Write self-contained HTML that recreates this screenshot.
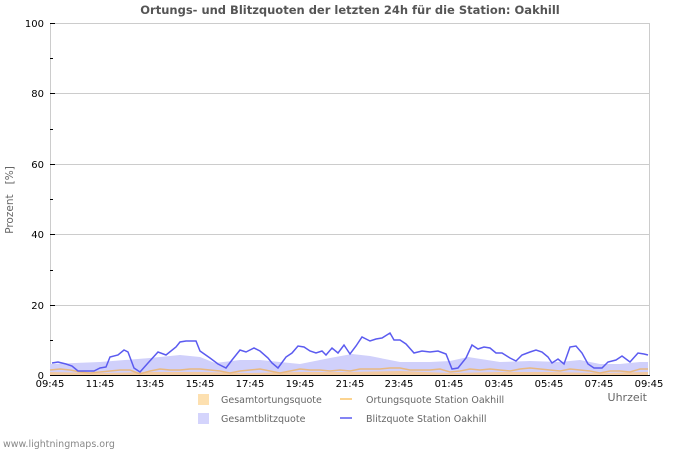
<!DOCTYPE html>
<html><head><meta charset="utf-8"><style>
html,body{margin:0;padding:0;background:#fff}
svg{display:block;font-family:"DejaVu Sans","Liberation Sans",sans-serif}
</style></head><body>
<svg width="700" height="450" viewBox="0 0 700 450">
<rect width="700" height="450" fill="#fff"/>
<text x="350" y="14" text-anchor="middle" font-size="11.5" font-weight="bold" fill="#555">Ortungs- und Blitzquoten der letzten 24h für die Station: Oakhill</text>
<g stroke="#ccc" stroke-width="1">
<line x1="50" y1="23.5" x2="650" y2="23.5"/>
<line x1="50" y1="93.5" x2="650" y2="93.5"/>
<line x1="50" y1="164.5" x2="650" y2="164.5"/>
<line x1="50" y1="234.5" x2="650" y2="234.5"/>
<line x1="50" y1="305.5" x2="650" y2="305.5"/>
<line x1="50.5" y1="23" x2="50.5" y2="376"/>
<line x1="649.5" y1="23" x2="649.5" y2="376"/>
</g>
<polygon fill="#d0d0fb" points="50,375 50,364 100,362 150,358 180,355 200,357 215,363 240,360 260,360 280,362 300,364 330,358 352,354 370,356 400,362 430,362 450,361 468,357 500,362 530,361 560,362 580,360 600,364 620,364 640,362 648,362 648,375"/>
<polygon fill="#f2c9a0" points="50,375 50,372 100,373 150,372 200,372 250,373 300,372 350,372 400,371 450,373 500,372 550,372 600,373 648,372 648,375"/>
<polyline fill="none" stroke="#e8b880" stroke-width="1.5" points="50,370 60,369 70,370 80,372 90,373 100,372 110,371 120,370 130,370 140,374 150,371 160,369 170,370 180,370 190,369 200,369 210,370 220,371 230,373 240,371 250,370 260,369 270,371 280,373 290,371 300,369 310,370 320,370 330,371 340,370 350,371 360,369 370,369 380,369 390,368 400,368 410,370 420,370 430,370 440,369 450,372 460,371 470,369 480,370 490,369 500,370 510,371 520,369 530,368 540,369 550,370 560,371 570,369 580,370 590,371 600,373 610,371 620,371 630,372 640,369 648,369"/>
<polyline fill="none" stroke="#5b5bf0" stroke-width="1.5" points="52,363 58,362 66,364 72,366 78,371 88,371 94,371 100,368 106,367 110,357 118,355 124,350 128,352 134,368 140,372 148,363 158,352 166,355 176,347 180,342 186,341 196,341 200,351 210,358 218,364 226,368 232,360 240,350 246,352 254,348 260,351 268,358 272,363 278,368 286,357 292,353 298,346 304,347 310,351 316,353 322,351 326,355 332,348 338,353 344,345 350,354 356,346 362,337 370,341 376,339 382,338 390,333 394,340 400,340 406,344 414,353 422,351 430,352 438,351 446,354 452,369 458,368 466,358 472,345 478,349 484,347 490,348 496,353 502,353 510,358 516,361 522,355 530,352 536,350 542,352 548,357 552,363 558,359 564,364 570,347 576,346 582,353 588,364 594,368 602,368 608,362 616,360 622,356 630,362 638,353 644,354 648,355"/>
<g stroke="#000" stroke-width="1">
<line x1="50" y1="375.5" x2="650" y2="375.5"/>
<line x1="50" y1="23.5" x2="55" y2="23.5"/>
<line x1="50" y1="58.5" x2="53" y2="58.5"/>
<line x1="50" y1="93.5" x2="55" y2="93.5"/>
<line x1="50" y1="129.5" x2="53" y2="129.5"/>
<line x1="50" y1="164.5" x2="55" y2="164.5"/>
<line x1="50" y1="199.5" x2="53" y2="199.5"/>
<line x1="50" y1="234.5" x2="55" y2="234.5"/>
<line x1="50" y1="270.5" x2="53" y2="270.5"/>
<line x1="50" y1="305.5" x2="55" y2="305.5"/>
<line x1="50" y1="340.5" x2="53" y2="340.5"/>
</g>
<g stroke="#000" stroke-width="1" id="xt"></g>
<script>
var g=document.getElementById('xt'),s='';
for(var i=0;i<=24;i++){var x=Math.round(50+i*599/24)+0.5;s+='<line x1="'+x+'" x2="'+x+'" y1="375" y2="'+(i%2?372:371)+'"/>';}
g.innerHTML=s;
</script>
<g font-size="10" fill="#000" text-anchor="end">
<text x="44" y="27">100</text><text x="44" y="97">80</text><text x="44" y="168">60</text><text x="44" y="238">40</text><text x="44" y="309">20</text><text x="44" y="379">0</text>
</g>
<g font-size="10" fill="#000" text-anchor="middle">
<text x="50" y="387">09:45</text><text x="100" y="387">11:45</text><text x="150" y="387">13:45</text><text x="200" y="387">15:45</text><text x="250" y="387">17:45</text><text x="300" y="387">19:45</text><text x="350" y="387">21:45</text><text x="399" y="387">23:45</text><text x="449" y="387">01:45</text><text x="499" y="387">03:45</text><text x="549" y="387">05:45</text><text x="599" y="387">07:45</text><text x="649" y="387">09:45</text>
</g>
<text x="13" y="200" font-size="10.5" fill="#666" text-anchor="middle" transform="rotate(-90 13 200)" style="white-space:pre">Prozent   [%]</text>
<text x="647" y="401" font-size="11" fill="#666" text-anchor="end">Uhrzeit</text>
<rect x="198" y="394" width="11" height="11" fill="#fde0b0"/>
<text x="221" y="403" font-size="9.5" fill="#666">Gesamtortungsquote</text>
<rect x="198" y="413" width="11" height="11" fill="#d4d4fc"/>
<text x="221" y="422" font-size="9.5" fill="#666">Gesamtblitzquote</text>
<line x1="340" y1="399" x2="352" y2="399" stroke="#fbc56a" stroke-width="1.5"/>
<text x="366" y="403" font-size="9.5" fill="#666">Ortungsquote Station Oakhill</text>
<line x1="340" y1="418" x2="352" y2="418" stroke="#5b5bf0" stroke-width="1.5"/>
<text x="366" y="422" font-size="9.5" fill="#666">Blitzquote Station Oakhill</text>
<text x="3" y="447" font-size="9.5" fill="#888">www.lightningmaps.org</text>
</svg>
</body></html>
